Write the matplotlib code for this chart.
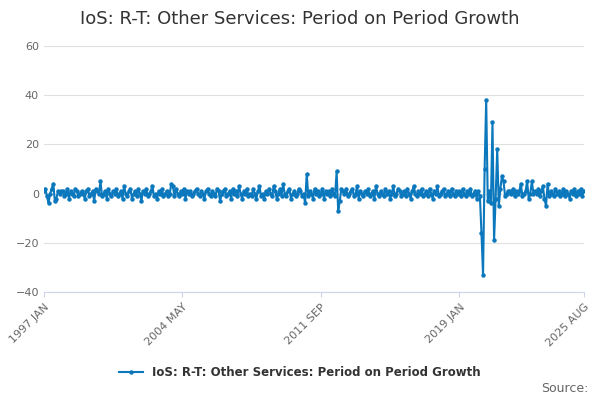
import numpy as np
import matplotlib
matplotlib.use("Agg")
import matplotlib.pyplot as plt

SERIES = "IoS: R-T: Other Services: Period on Period Growth"

yearly = [
    [1, 2, -1, -4, 0, 2, 4, -3, -2, 1, 0, 1],
    [1, -1, 0, 2, -2, 1, 0, -1, 2, 1, -1, 0],
    [1, 0, -2, 1, 2, -1, 0, 1, -3, 2, 1, 0],
    [5, -1, 0, 1, -2, 2, 0, -1, 1, 0, 2, -1],
    [0, 1, -2, 3, 0, -1, 1, 2, -2, 0, 1, -1],
    [2, 0, -3, 1, 0, 2, -1, 0, 1, 3, -1, 0],
    [-2, 1, 0, 2, -1, 0, 1, -1, 0, 4, 3, -1],
    [2, 0, -1, 1, 0, 2, -2, 1, 0, 1, -1, 0],
    [1, 2, 0, -1, 1, 0, -2, 1, 2, 0, -1, 1],
    [0, -1, 2, 1, -3, 0, 1, 2, -1, 0, 1, -2],
    [2, 0, 1, -1, 3, 0, -2, 1, 0, 2, -1, 0],
    [-1, 2, 0, -2, 1, 3, -1, 0, -2, 1, 0, 2],
    [0, -1, 3, 1, -2, 0, 2, -1, 4, 0, -1, 1],
    [2, -2, 0, 1, -1, 0, 2, 1, -1, 0, -4, 8],
    [-1, 1, 0, -2, 2, 0, 1, -1, 0, 2, -2, 1],
    [0, 1, -1, 2, 0, -1, 9, -7, -3, 2, 1, 0],
    [2, -1, 0, 1, 2, -1, 0, 3, -2, 1, 0, -1],
    [1, 0, 2, -1, 0, 1, -2, 3, 0, -1, 1, 0],
    [-1, 2, 0, 1, -2, 0, 3, -1, 0, 2, 1, -1],
    [0, 1, -1, 2, 0, -2, 1, 3, 0, -1, 1, 0],
    [2, -1, 0, 1, -1, 2, 0, -2, 1, 0, 3, -1],
    [0, 1, 2, -1, 0, 1, -1, 2, 0, -1, 1, 0],
    [1, -1, 2, 0, -1, 1, 0, 2, -1, 0, 1, -2],
    [1, -1, -16, -33, 10, 38, -3, 1, -4, 29, -19, -2],
    [18, -5, 2, 7, 5, -1, 0, 1, 1, 0, 2, -1],
    [1, 0, 1, 4, -1, 0, 1, 5, -2, 0, 5, 0],
    [1, 0, 2, -1, 1, 3, -2, -5, 4, -1, 1, 0],
    [-1, 2, 0, 1, -1, 0, 2, -1, 1, 0, -2, 1],
    [0, 2, -1, 1, 0, 2, -1, 1],
]
values = [v for yr in yearly for v in yr]
tick_idx = [0, 88, 176, 264, 343]
tick_labels = ["1997 JAN", "2004 MAY", "2011 SEP", "2019 JAN", "2025 AUG"]

color = "#0b77bd"
fig = plt.figure(figsize=(6, 4), dpi=100)
ax = fig.add_axes([0.073, 0.27, 0.9, 0.615])
x = np.arange(len(values))
ax.plot(x, values, color=color, lw=1.5, marker="o", ms=2.2, label=SERIES)
ax.set_ylim(-40, 60)
ax.set_yticks(range(-40, 61, 20))
ax.set_xlim(0, len(values) - 1)
ax.set_xticks(tick_idx)
ax.set_xticklabels(tick_labels, rotation=45, ha="right", rotation_mode="anchor")
ax.grid(axis="y", color="#e0e0e0", lw=0.8)
ax.set_axisbelow(True)
for s in ["top", "right", "left"]:
    ax.spines[s].set_visible(False)
ax.spines["bottom"].set_color("#ccd6eb")
ax.tick_params(axis="y", length=0, labelsize=8, colors="#666666")
ax.tick_params(axis="x", labelsize=8, colors="#666666", color="#ccd6eb")
fig.suptitle(SERIES, y=0.975, fontsize=13, color="#333333")
fig.legend(loc="center", bbox_to_anchor=(0.5, 0.068), frameon=False,
           prop={"size": 8.5, "weight": "bold"}, labelcolor="#333333")
fig.text(0.98, 0.02, "Source:", ha="right", fontsize=9, color="#666666")
fig.savefig("out.png")
